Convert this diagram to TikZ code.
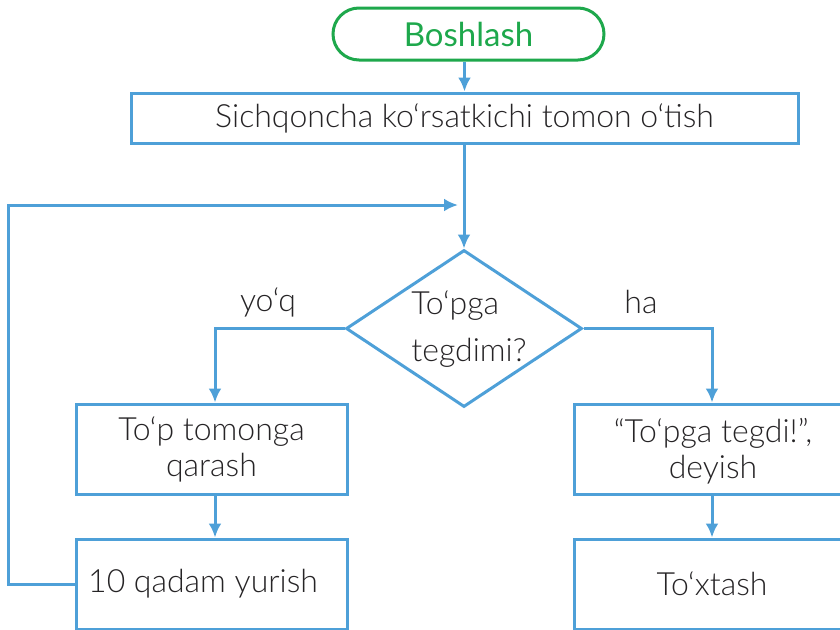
\documentclass[tikz,border=0pt]{standalone}
\usepackage{fontspec}
\setmainfont{Lato Light}
\newfontfamily\startfont{Lato}
\usetikzlibrary{arrows.meta,shapes.geometric}
\definecolor{flowblue}{RGB}{78,160,216}
\definecolor{flowgreen}{RGB}{30,168,76}
\definecolor{ink}{RGB}{38,36,38}
\tikzset{
  flow/.style={draw=flowblue, line width=3pt},
  arr/.style={flow, -{Latex[length=14pt,width=13pt]}},
  stepbox/.style={flow, rectangle, inner sep=0pt, text=ink, align=center,
    font=\fontsize{32}{36}\selectfont},
  lbl/.style={text=ink, inner sep=0pt, font=\fontsize{32}{36}\selectfont},
}
\begin{document}
\begin{tikzpicture}[x=1pt, y=-1pt]
  \useasboundingbox (0,0) rectangle (840,629);
  \clip (0,0) rectangle (840,629);

  % start terminal
  \node (start) [draw=flowgreen, line width=3pt, rounded corners=26pt,
    minimum width=271pt, minimum height=52pt, inner sep=0pt,
    text=flowgreen, font=\startfont\fontsize{33}{36}\selectfont]
    at (468.5,34) {Boshlash};

  % process boxes
  \node (move) [stepbox, minimum width=667pt, minimum height=50pt]
    at (464.5,118) {Sichqoncha ko‘rsatkichi tomon o‘tish};
  \node (look) [stepbox, minimum width=271pt, minimum height=90pt]
    at (211.5,449) {To‘p tomonga\\qarash};
  \node (walk) [stepbox, minimum width=271pt, minimum height=90pt]
    at (211.5,584) {};
  \node (walktxt) [lbl, anchor=west] at (88,584) {10 qadam yurish};
  \node (say) [stepbox, minimum width=271pt, minimum height=90pt]
    at (709.5,449) {};
  \node (saytxt) [lbl, align=center] at (713,451) {“To‘pga tegdi!”,\\deyish};
  \node (stop) [stepbox, minimum width=271pt, minimum height=90pt]
    at (709.5,584) {};
  \node (stoptxt) [lbl] at (712,584) {To‘xtash};

  % decision
  \node (dec) [flow, diamond, minimum width=236pt, minimum height=157pt,
    inner sep=0pt] at (464,328.5) {};
  \node (dectxt) [lbl, align=left, font=\fontsize{32}{47}\selectfont]
    at (469,329) {To‘pga\\tegdimi?};

  % branch labels
  \node (no) [lbl] at (268,302) {yo‘q};
  \node (yes) [lbl] at (641,302) {ha};

  % connectors
  \coordinate (loopend) at (458,205);
  \draw[arr] (start.south -| move.north) -- (move.north);
  \draw[arr] (move.south -| dec.north) -- (dec.north);
  \draw[arr] (dec.west) -| ([xshift=3.5pt]look.north);
  \draw[arr] (dec.east) -| ([xshift=2.5pt]say.north);
  \draw[arr] ([xshift=3.5pt]look.south) -- ([xshift=3.5pt]walk.north);
  \draw[arr] ([xshift=2.5pt]say.south) -- ([xshift=2.5pt]stop.north);
  \draw[arr] (walk.west) -- ++(-66,0) |- (loopend);
\end{tikzpicture}
\end{document}
